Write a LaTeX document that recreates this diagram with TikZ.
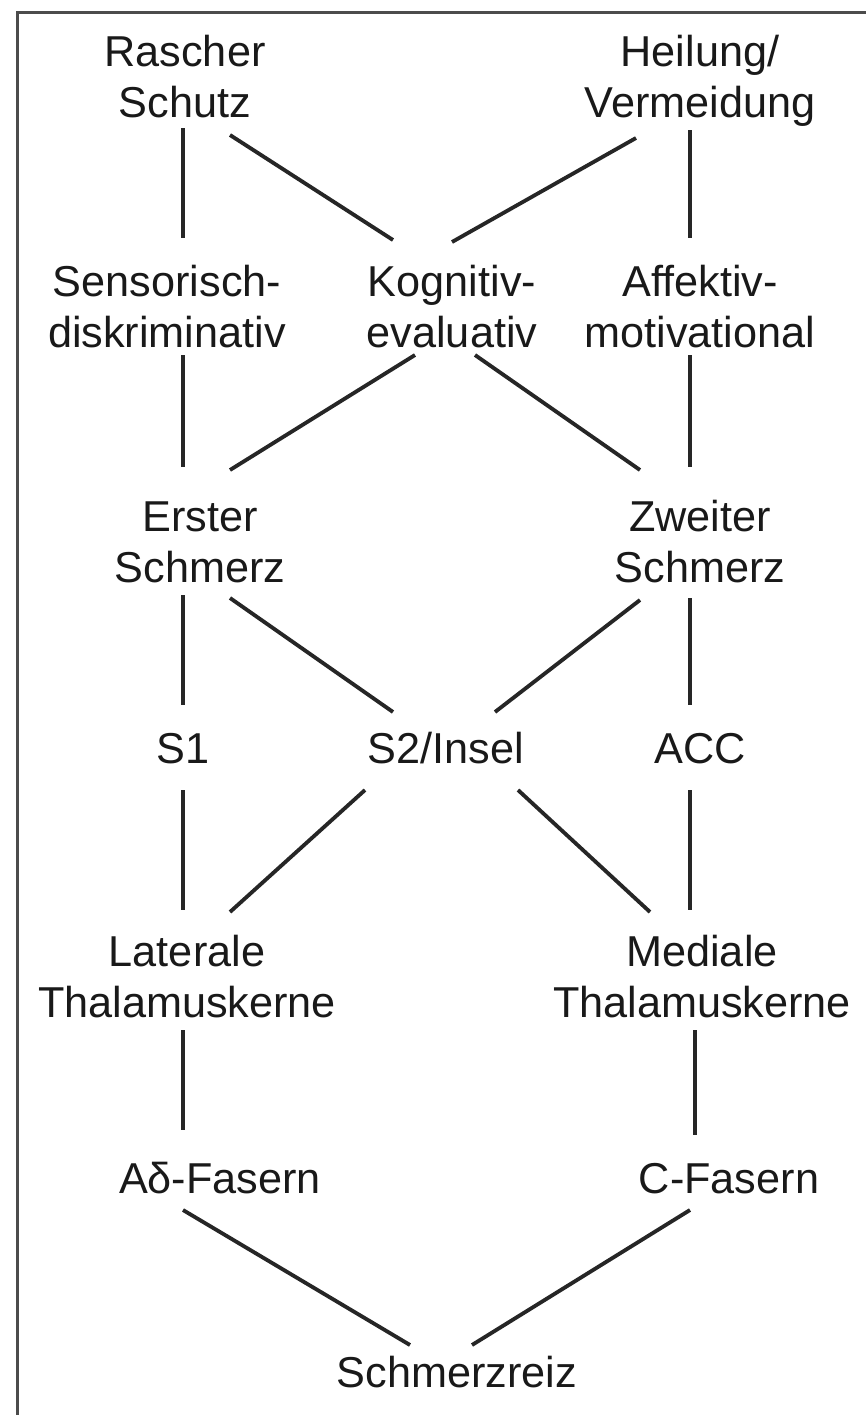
\documentclass[tikz,border=0pt]{standalone}
\usepackage{fontspec}
\setmainfont{Liberation Sans}
\begin{document}
\begin{tikzpicture}[x=0.03cm,y=-0.03cm,
  lbl/.style={anchor=base,inner sep=0pt,text=black!90,
    font=\fontsize{36.9}{42.7}\selectfont},
  conn/.style={line width=0.115cm,draw=black!85},
  frame/.style={line width=0.09cm,draw=black!70}]
\useasboundingbox (0,0) rectangle (866,1415);
\draw[frame] (17,1415) -- (17,12) -- (866,12);
\newcommand{\two}[2]{\begin{tabular}[b]{@{}c@{}}#1\\#2\end{tabular}}
\node[lbl] (rs) at (185,117) {\two{Rascher}{Schutz}};
\node[lbl] (hv) at (700,117) {\two{Heilung/}{Vermeidung}};
\node[lbl] (sd) at (167,347) {\two{Sensorisch-}{diskriminativ}};
\node[lbl] (ke) at (452,347) {\two{Kognitiv-}{evaluativ}};
\node[lbl] (am) at (700,347) {\two{Affektiv-}{motivational}};
\node[lbl] (es) at (200,582) {\two{Erster}{Schmerz}};
\node[lbl] (zs) at (700,582) {\two{Zweiter}{Schmerz}};
\node[lbl] (s1) at (183,763) {S1};
\node[lbl] (s2) at (446,763) {S2/Insel};
\node[lbl] (acc) at (700,763) {ACC};
\node[lbl] (lt) at (187,1017) {\two{Laterale}{Thalamuskerne}};
\node[lbl] (mt) at (702,1017) {\two{Mediale}{Thalamuskerne}};
\node[lbl] (ad) at (220,1193) {Aδ-Fasern};
\node[lbl] (cf) at (729,1193) {C-Fasern};
\node[lbl] (sr) at (457,1387) {Schmerzreiz};
\draw[conn] ([shift={(-2,11)}]rs.base) -- ([shift={(16,-109)}]sd.base);
\draw[conn] ([shift={(45,18)}]rs.base) -- ([shift={(-59,-107)}]ke.base);
\draw[conn] ([shift={(-64,21)}]hv.base) -- ([shift={(0,-105)}]ke.base);
\draw[conn] ([shift={(-10,13)}]hv.base) -- ([shift={(-10,-109)}]am.base);
\draw[conn] ([shift={(16,8)}]sd.base) -- ([shift={(-17,-115)}]es.base);
\draw[conn] ([shift={(-37,8)}]ke.base) -- ([shift={(30,-112)}]es.base);
\draw[conn] ([shift={(23,8)}]ke.base) -- ([shift={(-60,-112)}]zs.base);
\draw[conn] ([shift={(-10,8)}]am.base) -- ([shift={(-10,-115)}]zs.base);
\draw[conn] ([shift={(-17,13)}]es.base) -- ([shift={(0,-58)}]s1.base);
\draw[conn] ([shift={(30,16)}]es.base) -- ([shift={(-53,-51)}]s2.base);
\draw[conn] ([shift={(-60,18)}]zs.base) -- ([shift={(49,-51)}]s2.base);
\draw[conn] ([shift={(-10,16)}]zs.base) -- ([shift={(-10,-58)}]acc.base);
\draw[conn] ([shift={(0,27)}]s1.base) -- ([shift={(-4,-107)}]lt.base);
\draw[conn] ([shift={(-81,27)}]s2.base) -- ([shift={(43,-105)}]lt.base);
\draw[conn] ([shift={(72,27)}]s2.base) -- ([shift={(-52,-105)}]mt.base);
\draw[conn] ([shift={(-10,27)}]acc.base) -- ([shift={(-12,-107)}]mt.base);
\draw[conn] ([shift={(-4,13)}]lt.base) -- ([shift={(-37,-63)}]ad.base);
\draw[conn] ([shift={(-7,13)}]mt.base) -- ([shift={(-34,-58)}]cf.base);
\draw[conn] ([shift={(-37,17)}]ad.base) -- ([shift={(-47,-42)}]sr.base);
\draw[conn] ([shift={(-39,17)}]cf.base) -- ([shift={(15,-42)}]sr.base);
\end{tikzpicture}
\end{document}
